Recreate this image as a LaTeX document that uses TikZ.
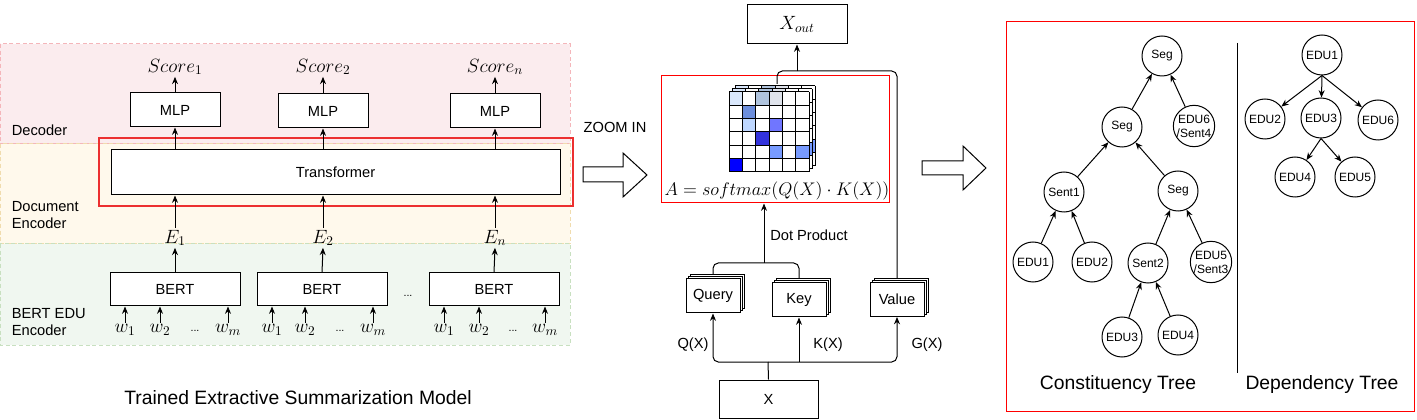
\documentclass[tikz,border=0pt]{standalone}
\usepackage{graphicx}
\usepackage{fontspec}
\setmainfont{Liberation Sans}
\usetikzlibrary{arrows.meta,shadows}

\definecolor{decfill}{RGB}{251,236,238}
\definecolor{decline}{RGB}{244,182,186}
\definecolor{docfill}{RGB}{255,249,236}
\definecolor{docline}{RGB}{240,220,174}
\definecolor{bertfill}{RGB}{240,247,240}
\definecolor{bertline}{RGB}{200,224,192}
\definecolor{zoomred}{RGB}{236,48,48}
\definecolor{attA}{RGB}{218,232,252}
\definecolor{attB}{RGB}{176,196,222}
\definecolor{attC}{RGB}{224,228,236}
\definecolor{attD}{RGB}{108,142,220}
\definecolor{attE}{RGB}{190,215,255}
\definecolor{attF}{RGB}{112,118,255}
\definecolor{attG}{RGB}{51,51,220}
\definecolor{attH}{RGB}{120,155,255}
\definecolor{attI}{RGB}{0,0,255}

\tikzset{
  box/.style={draw, fill=white, inner sep=0pt, font=\fontsize{11}{13}\selectfont},
  stackbox/.style={box, minimum width=40.5pt, minimum height=25.5pt,
    double copy shadow={shadow xshift=1.5pt, shadow yshift=1.5pt}},
  tnode/.style={draw, circle, fill=white, minimum size=30pt, inner sep=0pt,
    align=center, font=\fontsize{9}{10.5}\selectfont},
  mathlbl/.style={inner sep=1pt, font=\fontsize{14.4}{16}\selectfont},
  lbl/.style={inner sep=1pt, font=\fontsize{11}{13}\selectfont},
  title/.style={inner sep=1pt, font=\fontsize{14.5}{17}\selectfont},
  arr/.style={-{Stealth[length=5.5pt,width=4.5pt]}},
  band/.style={dash pattern=on 3pt off 2pt},
}

\begin{document}
\begin{tikzpicture}[x=0.75pt, y=-0.75pt, line width=0.75pt]
  \useasboundingbox (0,0) rectangle (1417,420);

  % left: trained model
  \fill[decfill] (0,44) rectangle (570,144);
  \fill[docfill] (0,144) rectangle (570,244);
  \fill[bertfill] (0,244) rectangle (570,345);
  \draw[decline, band] (0,44) rectangle (570,144);
  \draw[docline, band] (0,144) rectangle (570,244);
  \draw[bertline, band] (0,244) rectangle (570,345);
  \node[lbl, anchor=west] (declbl) at (10,130) {Decoder};
  \node[lbl, anchor=west, align=left] (doclbl) at (10,215) {Document\\Encoder};
  \node[lbl, anchor=west, align=left] (bertlbl) at (10,322) {BERT EDU\\Encoder};

  \node[box, minimum width=67.5pt, minimum height=25.5pt] (mlp1) at (175,110) {MLP};
  \node[box, minimum width=67.5pt, minimum height=25.5pt] (mlp2) at (323,111) {MLP};
  \node[box, minimum width=67.5pt, minimum height=25.5pt] (mlpn) at (495,111) {MLP};
  \node[mathlbl] (score1) at (175,67) {$Score_1$};
  \node[mathlbl] (score2) at (323,67) {$Score_2$};
  \node[mathlbl] (scoren) at (495,67) {$Score_n$};
  \node[box, minimum width=336.75pt, minimum height=33.75pt] (trans) at (335.5,172.5) {Transformer};
  \node[draw=zoomred, line width=1pt, minimum width=355.5pt, minimum height=51pt, inner sep=0pt] (enczoom) at (336,172) {};
  \node[mathlbl] (e1) at (175,238) {$E_1$};
  \node[mathlbl] (e2) at (323,238) {$E_2$};
  \node[mathlbl] (en) at (495,238) {$E_n$};
  \node[box, minimum width=97.5pt, minimum height=24.75pt] (bert1) at (175,289.5) {BERT};
  \node[box, minimum width=97.5pt, minimum height=24.75pt] (bert2) at (322,289.5) {BERT};
  \node[box, minimum width=97.5pt, minimum height=24.75pt] (bertn) at (494,289.5) {BERT};
  \node[inner sep=0pt, font=\fontsize{8}{9}\selectfont] (bdots) at (408,296) {...};

  \foreach \n/\xa/\xb/\xd/\xm/\b in {1/125/160/195/228/bert1, 2/272/305/340/373/bert2, 3/444/479/513/545/bertn} {
    \node[mathlbl] (w\n a) at (\xa,330) {$w_1$};
    \node[mathlbl] (w\n b) at (\xb,330) {$w_2$};
    \node[inner sep=0pt, font=\fontsize{8}{9}\selectfont] (w\n d) at (\xd,331) {...};
    \node[mathlbl] (w\n m) at (\xm,330) {$w_m$};
    \draw[arr] (w\n a.north) -- (w\n a.north |- \b.south);
    \draw[arr] (w\n b.north) -- (w\n b.north |- \b.south);
    \draw[arr] (w\n m.north) -- (w\n m.north |- \b.south);
  }

  \draw[arr] (bert1.north) -- (e1.south);
  \draw[arr] (bert2.north) -- (e2.south);
  \draw[arr] (bertn.north) -- (en.south);
  \draw[arr] (e1.north) -- (trans.south -| e1);
  \draw[arr] (e2.north) -- (trans.south -| e2);
  \draw[arr] (en.north) -- (trans.south -| en);
  \draw[arr] (trans.north -| mlp1) -- (mlp1.south);
  \draw[arr] (trans.north -| mlp2) -- (mlp2.south);
  \draw[arr] (trans.north -| mlpn) -- (mlpn.south);
  \draw[arr] (mlp1.north) -- (score1.south);
  \draw[arr] (mlp2.north) -- (score2.south);
  \draw[arr] (mlpn.north) -- (scoren.south);
  \node[title] (ltitle) at (298,398) {Trained Extractive Summarization Model};

  % zoom in
  \node[lbl] (zoomlbl) at (615,127) {ZOOM IN};
  \draw[fill=white] (583,167) -- (623,167) -- (623,153) -- (647,175) -- (623,197) -- (623,182) -- (583,182) -- cycle;

  % attention
  \node[draw=red, minimum width=171pt, minimum height=95.25pt, inner sep=0pt] (attn) at (775,139.5) {};
  \foreach \k in {2,1,0} {
    \begin{scope}[shift={(3*\k,-3*\k)}]
      \fill[white] (729,92) rectangle (809,172);
      \foreach \r/\c/\col in {1/1/attA, 1/3/attB, 1/4/attC, 2/2/attD, 3/2/attE, 3/4/attF, 4/3/attG, 5/4/attH, 5/6/attH, 6/1/attI}
        \fill[\col] ({729+(\c-1)*13.333},{92+(\r-1)*13.333}) rectangle ++(13.333,13.333);
      \foreach \i in {0,...,6} {
        \draw ({729+\i*13.333},92) -- ++(0,80);
        \draw (729,{92+\i*13.333}) -- ++(80,0);
      }
    \end{scope}
  }
  \node[mathlbl] (formula) at (777,191) {\scalebox{0.95}{$A = softmax(Q(X)\cdot K(X))$}};
  \node[box, minimum width=75pt, minimum height=29.25pt] (xout) at (797,24.5) {\fontsize{14.4}{16}\selectfont$X_{out}$};

  \node[stackbox] (query) at (713,296) {Query};
  \node[stackbox] (key) at (799,300) {Key};
  \node[stackbox] (value) at (897,299.5) {Value};
  \node[box, minimum width=74.25pt, minimum height=28.5pt] (x) at (768.5,399) {X};

  \coordinate (xsplit) at (768,362);
  \draw[rounded corners=4] (x.north) -- (xsplit);
  \draw[arr, rounded corners=4] (xsplit) -| (query.south);
  \draw[arr, rounded corners=4] (xsplit) -| (value.south);
  \draw[arr] (xsplit -| key.south) -- (key.south);
  \node[lbl] (qx) at (693,345) {Q(X)};
  \node[lbl] (kx) at (828,345) {K(X)};
  \node[lbl] (gx) at (927,345) {G(X)};

  \coordinate (dotc) at (764,263);
  \draw[rounded corners=4] ([yshift=3pt]query.north) |- (dotc) -| ([yshift=3pt]key.north);
  \draw[arr] (dotc) -- (attn.south -| dotc);
  \node[lbl] (dotlbl) at (809,235) {Dot Product};

  \coordinate (mattop) at (777,84);
  \coordinate (outc) at (797,71);
  \draw[rounded corners=4] (mattop) |- (outc);
  \draw[rounded corners=4] ([yshift=3pt]value.north) |- (outc);
  \draw[arr] (outc) -- (xout.south);

  \draw[fill=white] (922,161) -- (963,161) -- (963,146) -- (986,168) -- (963,190) -- (963,175) -- (922,175) -- cycle;

  % trees
  \draw[red] (1006,22) rectangle (1414,411);
  \draw (1237,43) -- (1237,373);

  \node[tnode] (seg1) at (1162,56) {Seg};
  \node[tnode] (seg2) at (1122,127) {Seg};
  \node[tnode] (edu6) at (1194,126) {EDU6\\/Sent4};
  \node[tnode] (sent1) at (1064,192) {Sent1};
  \node[tnode] (seg3) at (1178,191) {Seg};
  \node[tnode] (edu1) at (1033,262) {EDU1};
  \node[tnode] (edu2) at (1092,262) {EDU2};
  \node[tnode] (sent2) at (1148,263) {Sent2};
  \node[tnode] (edu5) at (1211,262) {EDU5\\/Sent3};
  \node[tnode] (edu3) at (1122,337) {EDU3};
  \node[tnode] (edu4) at (1178,335) {EDU4};
  \draw[arr] (seg2) -- (seg1);
  \draw[arr] (edu6) -- (seg1);
  \draw[arr] (sent1) -- (seg2);
  \draw[arr] (seg3) -- (seg2);
  \draw[arr] (edu1) -- (sent1);
  \draw[arr] (edu2) -- (sent1);
  \draw[arr] (sent2) -- (seg3);
  \draw[arr] (edu5) -- (seg3);
  \draw[arr] (edu3) -- (sent2);
  \draw[arr] (edu4) -- (sent2);
  \node[title] (ctitle) at (1118,385) {Constituency Tree};

  \node[tnode] (dedu1) at (1322,55) {EDU1};
  \node[tnode] (dedu2) at (1265,119) {EDU2};
  \node[tnode] (dedu3) at (1321,118) {EDU3};
  \node[tnode] (dedu6) at (1378,120) {EDU6};
  \node[tnode] (dedu4) at (1295,177) {EDU4};
  \node[tnode] (dedu5) at (1355,177) {EDU5};
  \draw[arr] (dedu1.south) -- (dedu2);
  \draw[arr] (dedu1.south) -- (dedu3);
  \draw[arr] (dedu1.south) -- (dedu6);
  \draw[arr] (dedu3.south) -- (dedu4);
  \draw[arr] (dedu3.south) -- (dedu5);
  \node[title] (dtitle) at (1322,385) {Dependency Tree};
\end{tikzpicture}
\end{document}
